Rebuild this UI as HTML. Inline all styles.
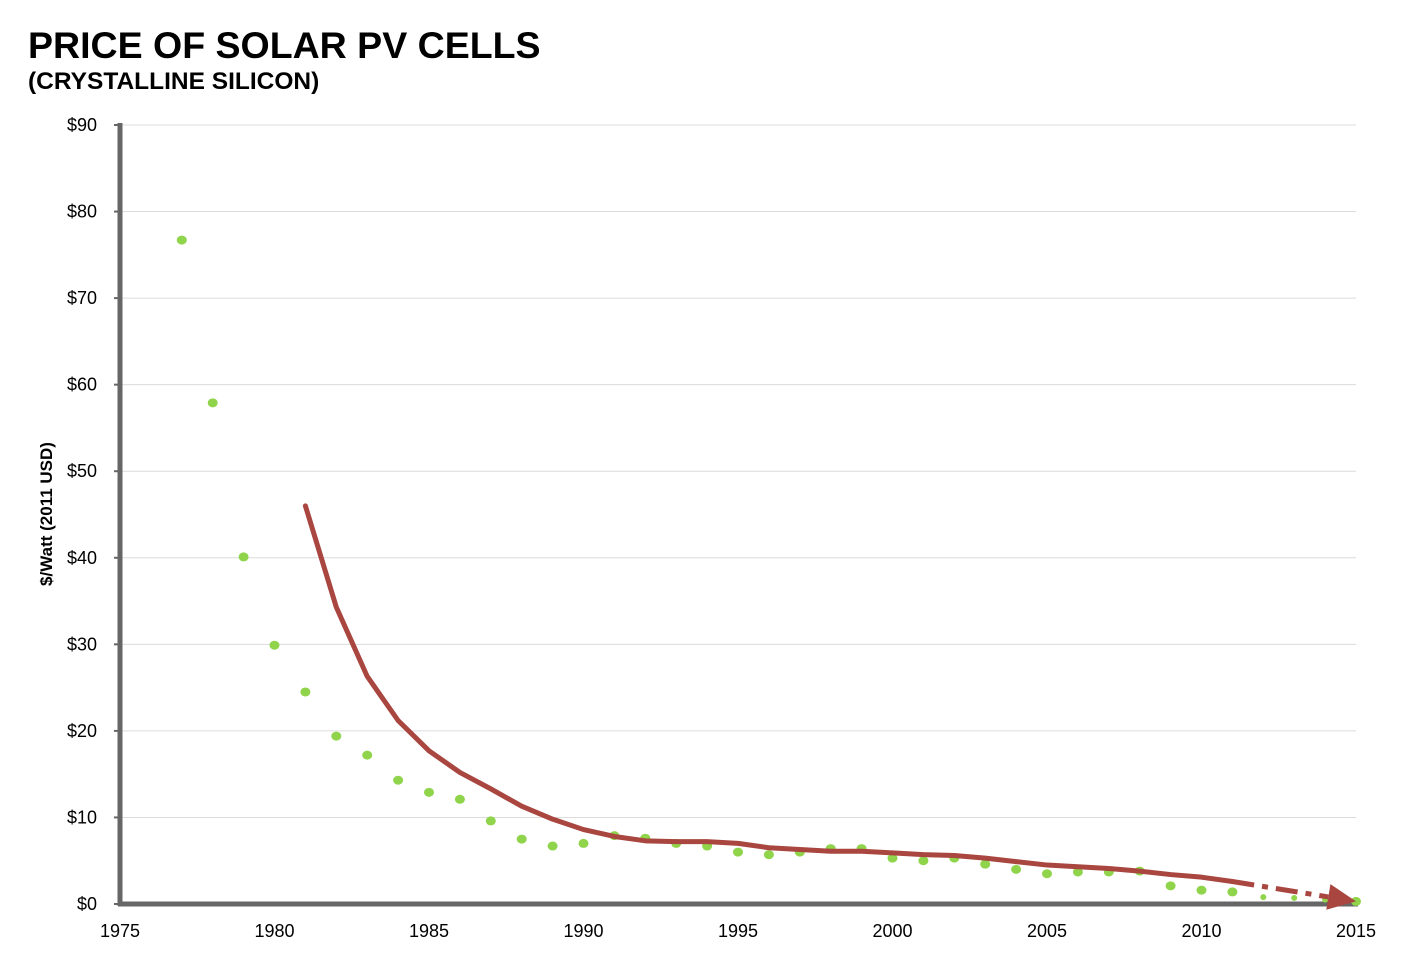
<!DOCTYPE html>
<html><head><meta charset="utf-8"><style>
body{margin:0;background:#fff;font-family:"Liberation Sans",Arial,sans-serif}
svg text{font-family:"Liberation Sans",Arial,sans-serif}
</style></head><body>
<svg id="chart" width="1406" height="956" viewBox="0 0 1406 956" xmlns="http://www.w3.org/2000/svg">
<text x="28" y="58" font-size="37.5" font-weight="bold" fill="#000">PRICE OF SOLAR PV CELLS</text>
<text x="28" y="89" font-size="24.5" font-weight="bold" fill="#000">(CRYSTALLINE SILICON)</text>
<text transform="translate(52,514) rotate(-90)" text-anchor="middle" font-size="17" font-weight="bold">$/Watt (2011 USD)</text>
<g id="grid"></g><g id="axes"></g><g id="marks"></g>
</svg>
<script>
const yTicks=[0,10,20,30,40,50,60,70,80,90];
const xTicks=[1975,1980,1985,1990,1995,2000,2005,2010,2015];
const dotYears=[1977,1978,1979,1980,1981,1982,1983,1984,1985,1986,1987,1988,1989,1990,1991,1992,1993,1994,1995,1996,1997,1998,1999,2000,2001,2002,2003,2004,2005,2006,2007,2008,2009,2010,2011,2012,2013,2014,2015];
const dotPrices=[76.7,57.9,40.1,29.9,24.5,19.4,17.2,14.3,12.9,12.1,9.6,7.5,6.7,7.0,7.9,7.6,7.0,6.7,6.0,5.7,6.0,6.4,6.4,5.3,5.0,5.3,4.6,4.0,3.5,3.7,3.7,3.8,2.1,1.6,1.4,0.8,0.7,0.5,0.3];
const lineYears=[1981,1982,1983,1984,1985,1986,1987,1988,1989,1990,1991,1992,1993,1994,1995,1996,1997,1998,1999,2000,2001,2002,2003,2004,2005,2006,2007,2008,2009,2010,2011];
const linePrices=[46,34.3,26.3,21.2,17.7,15.2,13.3,11.3,9.8,8.6,7.8,7.3,7.2,7.2,7.0,6.5,6.3,6.1,6.1,5.9,5.7,5.6,5.3,4.9,4.5,4.3,4.1,3.8,3.4,3.1,2.6];
const trendYears=[2011,2015];
const trendPrices=[2.6,0.3];
const NS="http://www.w3.org/2000/svg";
const X=y=>120+(y-1975)*(1356-120)/40;
const Y=v=>904-v*(904-125)/90;
function mk(t,a,p){const e=document.createElementNS(NS,t);for(const k in a)e.setAttribute(k,a[k]);p.appendChild(e);return e;}
const grid=document.getElementById('grid'),axes=document.getElementById('axes'),marks=document.getElementById('marks');
yTicks.forEach(v=>{
 if(v>0){const g=mk('line',{x1:120,x2:1356,y1:Y(v),y2:Y(v),stroke:'#dcdcdc','stroke-width':1},grid);
 
 }
 const tk=mk('line',{x1:114,x2:120,y1:Y(v),y2:Y(v),stroke:'#666','stroke-width':2},axes);
 
 
 const t=mk('text',{x:97,y:Y(v)+6,'text-anchor':'end','font-size':18},axes);t.textContent='$'+v;
 
 
});
xTicks.forEach(v=>{
 const t=mk('text',{x:X(v),y:937,'text-anchor':'middle','font-size':18},axes);t.textContent=v;
 
 
});
const ya=mk('line',{x1:120,x2:120,y1:123,y2:906,stroke:'#666','stroke-width':5},axes);


const xa=mk('line',{x1:118,x2:1358,y1:904,y2:904,stroke:'#666','stroke-width':5},axes);


dotYears.forEach((yr,i)=>{
 const small=yr>=2012&&yr<=2014;
 const d=mk('ellipse',{cx:X(yr),cy:Y(dotPrices[i]),rx:small?3:5,ry:small?3:4.5,fill:'#8fd44a'},marks);
 
 
});
const pts=lineYears.map((yr,i)=>X(yr)+','+Y(linePrices[i])).join(' ');
const pl=mk('polyline',{points:pts,fill:'none',stroke:'#a8463f','stroke-width':5,'stroke-linejoin':'round','stroke-linecap':'round'},marks);


const x1=X(trendYears[0]),y1=Y(trendPrices[0]),x2=X(trendYears[1]),y2=Y(trendPrices[1]);
const ang=Math.atan2(y2-y1,x2-x1),ax=x2-28*Math.cos(ang),ay=y2-28*Math.sin(ang);
const dl=mk('line',{x1:x1,y1:y1,x2:ax,y2:ay,stroke:'#a8463f','stroke-width':5,'stroke-dasharray':'22 8 6 8'},marks);


const px=-Math.sin(ang)*13,py=Math.cos(ang)*13;
const ah=mk('polygon',{points:`${x2},${y2} ${ax+px},${ay+py} ${ax-px},${ay-py}`,fill:'#a8463f'},marks);


</script>
</body></html>
